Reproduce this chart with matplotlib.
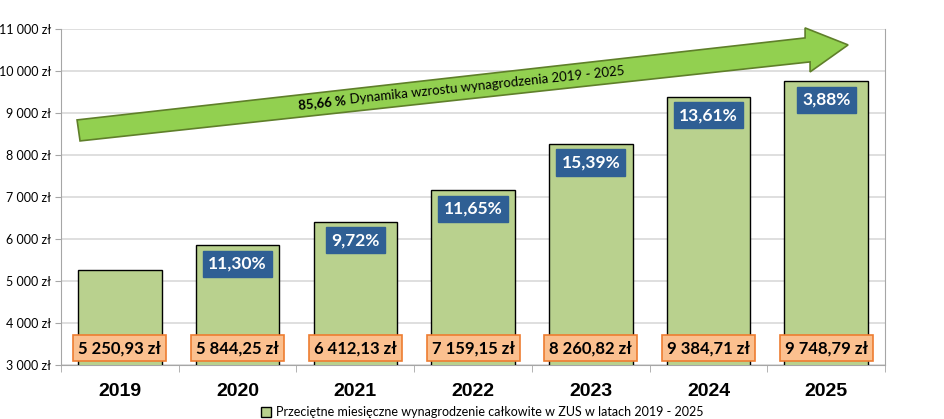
import matplotlib.pyplot as plt
from matplotlib.patches import Polygon
from matplotlib.ticker import FuncFormatter

plt.rcParams['font.family'] = ['Lato', 'DejaVu Sans']

years = ['2019', '2020', '2021', '2022', '2023', '2024', '2025']
salary = [5250.93, 5844.25, 6412.13, 7159.15, 8260.82, 9384.71, 9748.79]
growth = [None, '11,30%', '9,72%', '11,65%', '15,39%', '13,61%', '3,88%']
total_growth = '85,66 %'
legend_label = 'Przeciętne miesięczne wynagrodzenie całkowite w ZUS w latach 2019 - 2025'


def pl_money(v):
    s = f'{v:,.2f}'.replace(',', ' ').replace('.', ',')
    return s + ' zł'


fig = plt.figure(figsize=(9.45, 4.19), dpi=100)
ax = fig.add_axes([0.0646, 0.129, 0.872, 0.802])

x = range(len(years))
ax.bar(x, salary, width=0.71, color='#B9D18E', edgecolor='black', linewidth=1.0,
       zorder=3, label=legend_label)

ax.set_ylim(3000, 11000)
ax.set_xlim(-0.5, len(years) - 0.5)
ax.set_yticks(range(3000, 11001, 1000))
ax.yaxis.set_major_formatter(FuncFormatter(lambda v, p: f'{int(v):,} zł'.replace(',', ' ')))
ax.grid(axis='y', color='#D9D9D9', linewidth=1.2, zorder=0)
ax.tick_params(axis='y', labelsize=9, length=4, color='#A6A6A6', pad=3)

ax.set_xticks(list(x))
ax.set_xticklabels(years, fontsize=14, fontweight='bold', family=['Liberation Sans'])
ax.set_xticks([i - 0.5 for i in range(len(years) + 1)], minor=True)
ax.tick_params(axis='x', which='major', length=0, pad=13)
ax.tick_params(axis='x', which='minor', length=5, color='#A6A6A6')

for side in ['left', 'bottom', 'right']:
    ax.spines[side].set_color('#A6A6A6')
ax.spines['top'].set_visible(False)

# value labels at bottom of bars
for i, v in enumerate(salary):
    ax.text(i, 3400, pl_money(v), ha='center', va='center', fontsize=12,
            fontweight='bold', zorder=5,
            bbox=dict(boxstyle='square,pad=0.3', fc='#FBC08F', ec='#ED7D31', lw=1.2))

# year-on-year growth labels
for i, g in enumerate(growth):
    if g is None:
        continue
    ax.text(i, salary[i] - 440, g, ha='center', va='center', fontsize=12.5,
            fontweight='bold', color='white', zorder=5,
            bbox=dict(boxstyle='square,pad=0.3', fc='#2F5F94', ec='#2F5F94'))


# big arrow (figure pixel space converted to axes fraction)
def to_ax(px, py):
    return ((px - 61) / 824, (419 - py - 54) / 336)


arrow_px = [(77, 120), (805, 38), (805, 28), (848, 45), (810, 72), (810, 62), (80, 141)]
arrow = Polygon([to_ax(*p) for p in arrow_px], closed=True, transform=ax.transAxes,
                fc='#92D050', ec='#5F7F2A', lw=1.2, zorder=4, clip_on=False)
ax.add_patch(arrow)

tx, ty = to_ax(346, 100)
ax.text(tx, ty, total_growth, transform=ax.transAxes, ha='right', va='center',
        fontsize=9.5, fontweight='bold', rotation=6, rotation_mode='anchor', zorder=6)
ax.text(tx, ty, ' Dynamika wzrostu wynagrodzenia 2019 - 2025',
        transform=ax.transAxes, ha='left', va='center', fontsize=9.5,
        rotation=6, rotation_mode='anchor', zorder=6)

fig.legend(loc='lower center', bbox_to_anchor=(0.51, -0.025), frameon=False,
           handlelength=0.8, handleheight=0.8, handletextpad=0.4,
           prop={'size': 9})

fig.savefig('out.png', dpi=100)
